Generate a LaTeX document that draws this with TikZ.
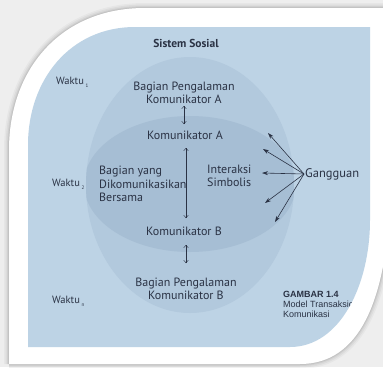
\documentclass[tikz,border=0pt]{standalone}
\usepackage{fontspec}
\setmainfont{PT Sans}
\newfontfamily\gambarfont{Liberation Sans}
\usetikzlibrary{arrows.meta}

\definecolor{kertas}{RGB}{189,211,229}
\definecolor{luar}{RGB}{178,201,221}
\definecolor{dalam}{RGB}{166,190,212}
\definecolor{tinta}{RGB}{42,50,68}
\definecolor{bayang}{RGB}{238,238,238}

\tikzset{
  teks/.style={text=tinta, font=\fontsize{12}{13.5}\selectfont, inner sep=1pt, align=center},
  waktu/.style={teks, anchor=west},
  panah/.style={{To[length=3pt,width=5pt]}-{To[length=3pt,width=5pt]}, thin, tinta},
  ganggu/.style={-{Stealth[length=6pt,width=4pt]}, semithick, tinta},
}

\begin{document}
\begin{tikzpicture}[x=1pt,y=-1pt]
  \useasboundingbox (0,0) rectangle (383,367);
  % Latar dan bayangan
  \fill[bayang] (0,0) rectangle (383,367);
  \foreach \w/\o in {10/0.03,7/0.04,4/0.05,2/0.06} {
    \draw[black, line width=\w pt, opacity=\o]
      (9,364) -- (9,150) .. controls (9,70) and (60,8) .. (145,8) -- (390,8)
      (390,205) .. controls (385,300) and (360,364) .. (300,364) -- (9,364);
  }
  % Bingkai putih
  \fill[white] (9,364) -- (9,150) .. controls (9,70) and (60,8) .. (145,8)
    -- (390,8) -- (390,205) .. controls (385,300) and (360,364) .. (300,364) -- cycle;
  % Foto
  \fill[kertas] (28,347) -- (28,145) .. controls (28,80) and (70,27) .. (135,27)
    -- (370,27) -- (370,220) .. controls (370,285) and (340,347) .. (290,347) -- cycle;
  % Lingkaran
  \fill[luar] (190,185) ellipse [x radius=104, y radius=128];
  \begin{scope}
    \clip (190,185) ellipse [x radius=104, y radius=128];
    \fill[dalam] (190,184) ellipse [x radius=106, y radius=68];
  \end{scope}

  % Teks
  \node[teks, font=\fontsize{11.5}{13}\selectfont\bfseries] (sistem) at (186,43) {Sistem Sosial};
  \node[waktu, font=\fontsize{10.5}{12}\selectfont] (waktu1) at (55,82) {Waktu\,\raisebox{-3pt}{\tiny 1}};
  \node[teks] (pengA) at (184,93) {Bagian Pengalaman\\Komunikator A};
  \node[teks] (komA) at (185,135) {Komunikator A};
  \node[waktu, font=\fontsize{10.5}{12}\selectfont] (waktu2) at (51,184) {Waktu\,\raisebox{-3pt}{\tiny 2}};
  \node[teks, align=left, anchor=west] (bersama) at (98,184) {Bagian yang\\Dikomunikasikan\\Bersama};
  \node[teks, align=left, anchor=west] (interaksi) at (206,176) {Interaksi\\Simbolis};
  \node[teks, anchor=west, font=\fontsize{12.5}{14}\selectfont] (gangguan) at (304,174) {Gangguan};
  \node[teks] (komB) at (184,231) {Komunikator B};
  \node[teks] (pengB) at (186,289) {Bagian Pengalaman\\Komunikator B};
  \node[waktu, font=\fontsize{10.5}{12}\selectfont] (waktun) at (51,301) {Waktu\,\raisebox{-3pt}{\tiny n}};
  \begin{scope}
    \clip (28,347) -- (28,145) .. controls (28,80) and (70,27) .. (135,27)
      -- (370,27) -- (370,220) .. controls (370,285) and (340,347) .. (290,347) -- cycle;
    \node[anchor=north west, align=left, inner sep=0pt, text=tinta,
      font=\gambarfont\fontsize{9}{10}\selectfont] (gambar) at (283,291)
      {\textbf{GAMBAR 1.4}\\Model Transaksional\\Komunikasi};
  \end{scope}

  % Panah
  \draw[panah] (184,106) -- (184,124);
  \draw[panah] (186,148) -- (186,218);
  \draw[panah] (186,245) -- (186,263);
  \foreach \i/\p in {1/{268,133},2/{263,149},3/{262,173},4/{265,203},5/{275,222}} {
    \coordinate (g\i) at (\p);
    \draw[ganggu] (gangguan.west) -- (g\i);
  }
\end{tikzpicture}
\end{document}
